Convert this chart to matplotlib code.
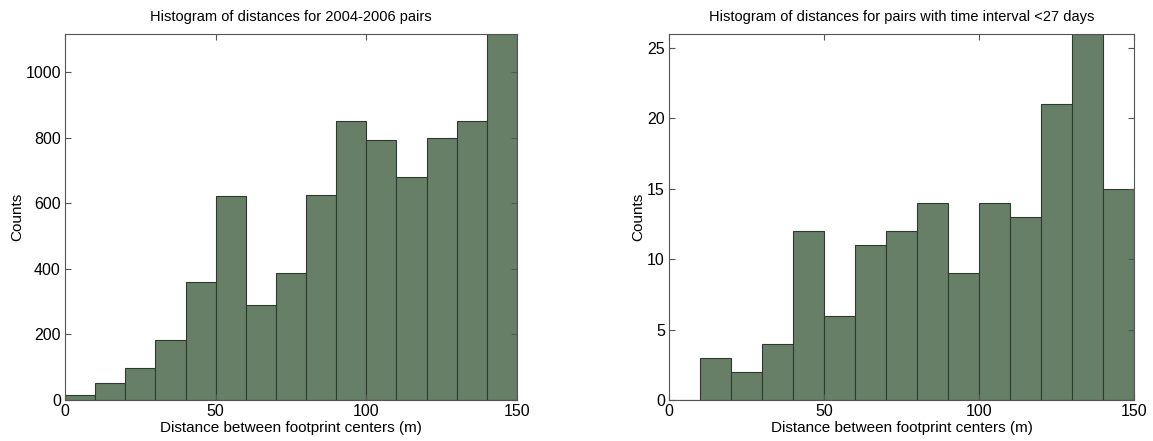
import matplotlib
matplotlib.use("Agg")
import matplotlib.pyplot as plt
import numpy as np

plt.rcParams['font.family'] = ['Liberation Sans', 'DejaVu Sans']

bin_edges = list(range(0, 160, 10))
counts_all = [14, 52, 97, 182, 361, 624, 291, 387, 627, 852, 794, 680, 799, 852, 1117]
counts_short = [0, 3, 2, 4, 12, 6, 11, 12, 14, 9, 14, 13, 21, 26, 15]

title_left = "Histogram of distances for 2004-2006 pairs"
title_right = "Histogram of distances for pairs with time interval <27 days"
xlabel = "Distance between footprint centers (m)"
ylabel = "Counts"

bar_color = "#677f67"
edge_color = "#2d3a2d"

fig = plt.figure(figsize=(11.53, 4.41), dpi=100)
axL = fig.add_axes([65/1153, 41/441, 452/1153, 366/441])
axR = fig.add_axes([669/1153, 41/441, 465/1153, 366/441])

def draw(ax, counts, ylim, yticks, title):
    edges = np.array(bin_edges)
    ax.bar(edges[:-1], counts, width=np.diff(edges), align='edge',
           color=bar_color, edgecolor=edge_color, linewidth=0.8)
    ax.set_xlim(0, 150)
    ax.set_ylim(0, ylim)
    ax.set_xticks([0, 50, 100, 150])
    ax.set_yticks(yticks)
    ax.tick_params(direction='in', top=True, right=True, labelsize=11.5,
                   length=4, color='#555555', pad=3)
    for s in ax.spines.values():
        s.set_color('#555555')
        s.set_linewidth(0.8)
    ax.set_title(title, fontsize=10.5, pad=9)
    ax.set_xlabel(xlabel, fontsize=11, labelpad=1)
    ax.set_ylabel(ylabel, fontsize=11, labelpad=1)

draw(axL, counts_all, 1117, [0, 200, 400, 600, 800, 1000], title_left)
draw(axR, counts_short, 26, [0, 5, 10, 15, 20, 25], title_right)

fig.savefig("out.png", dpi=100)
